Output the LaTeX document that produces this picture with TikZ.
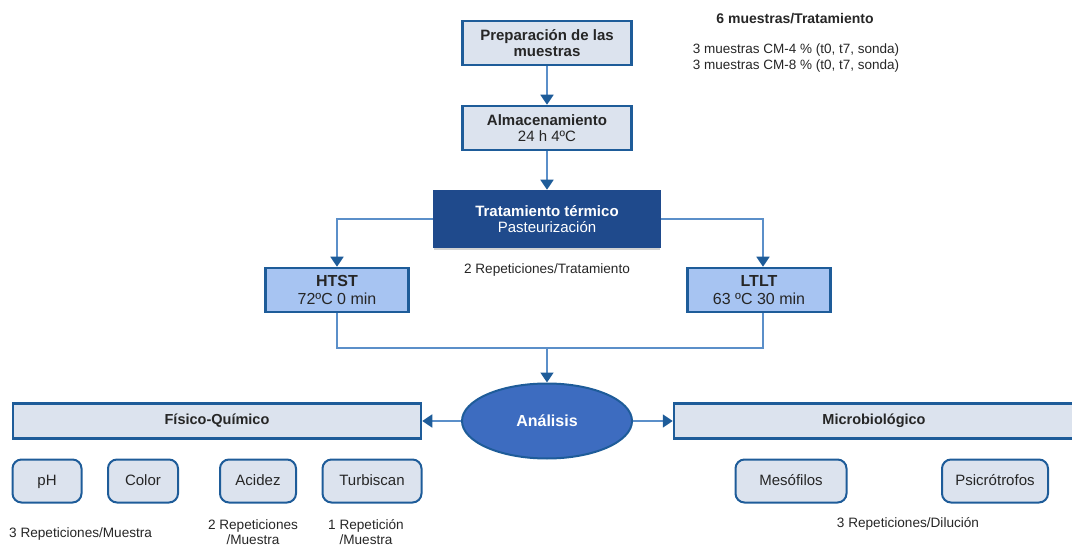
\documentclass[tikz,border=0pt]{standalone}
\usepackage{fontspec}
\setmainfont{Liberation Sans}
\usetikzlibrary{arrows.meta,shapes.geometric}
\definecolor{boxfill}{HTML}{DCE3EE}
\definecolor{boxline}{HTML}{1E5C99}
\definecolor{darkfill}{HTML}{1F4A8C}
\definecolor{medfill}{HTML}{A7C4F2}
\definecolor{ellfill}{HTML}{3D6CC0}
\definecolor{conline}{HTML}{5B8FC9}
\definecolor{txt}{HTML}{262626}
\tikzset{
  box/.style={draw=boxline, line width=2.5pt, fill=boxfill, text=txt, align=center,
    minimum width=169pt, minimum height=44pt, inner sep=0pt,
    font=\fontsize{15}{16}\selectfont\bfseries},
  temp/.style={box, fill=medfill, minimum width=143pt, font=\fontsize{16}{18}\selectfont},
  bar/.style={box, minimum height=35pt, font=\fontsize{14.5}{16}\selectfont\bfseries},
  small/.style={draw=boxline, line width=2pt, fill=boxfill, text=txt, rounded corners=9pt,
    minimum height=43pt, inner sep=0pt, text height=11pt, text depth=3pt,
    font=\fontsize{15}{16}\selectfont},
  note/.style={text=txt, align=center, inner sep=0pt, font=\fontsize{13.6}{15.5}\selectfont},
  con/.style={draw=conline, line width=1.8pt},
  arr/.style={con, -{Triangle[length=10pt,width=13pt,color=boxline]}}
}
\begin{document}
\begin{tikzpicture}[x=1pt, y=-1pt]
  \useasboundingbox (0,0) rectangle (1072,548);

  \node[box] (Prep) at (547,43) {Preparación de las\\muestras};
  \node[box] (Alm) at (547,128) {Almacenamiento\\\mdseries 24 h 4ºC};
  \fill[gray!35] (434,247) rectangle (660,250);
  \node[box, fill=darkfill, draw=darkfill, text=white, minimum width=226pt, minimum height=56pt] (Trat) at (547,219)
    {Tratamiento térmico\\\mdseries Pasteurización};
  \node[temp] (HTST) at (337,290) {\textbf{HTST}\\72ºC 0 min};
  \node[temp] (LTLT) at (759,290) {\textbf{LTLT}\\63 ºC 30 min};
  \node[note] (Rep) at (547,270) {2 Repeticiones/Tratamiento};

  \node[note, font=\fontsize{14}{16}\selectfont\bfseries] (Seis) at (795,19) {6 muestras/Tratamiento};
  \node[note, font=\fontsize{13.5}{16}\selectfont] (CM) at (796,58)
    {3 muestras CM-4 \% (t0, t7, sonda)\\3 muestras CM-8 \% (t0, t7, sonda)};

  \node[ellipse, draw=boxline, line width=2pt, fill=ellfill, text=white, minimum width=170pt, minimum height=75pt,
    inner sep=0pt, font=\fontsize{16}{18}\selectfont\bfseries] (Ana) at (547,421) {Análisis};
  \node[bar, minimum width=408pt] (FQ) at (217,421) {Físico-Químico};
  \node[bar, minimum width=400pt] (Micro) at (874,421) {Microbiológico};

  \node[small, minimum width=69pt] (pH) at (47,481) {pH};
  \node[small, minimum width=70pt] (Color) at (143,481) {Color};
  \node[small, minimum width=76pt] (Acidez) at (258,481) {Acidez};
  \node[small, minimum width=99pt] (Turb) at (372,481) {Turbiscan};
  \node[small, minimum width=111pt] (Meso) at (791,481) {Mesófilos};
  \node[small, minimum width=106pt] (Psic) at (995,481) {Psicrótrofos};

  \node[note, anchor=west] (R3) at (9,534) {3 Repeticiones/Muestra};
  \node[note] (R2) at (253,532) {2 Repeticiones\\/Muestra};
  \node[note] (R1) at (366,532) {1 Repetición\\/Muestra};
  \node[note] (RD) at (908,524) {3 Repeticiones/Dilución};

  \coordinate (J) at (547,348);
  \path[every edge/.append style={arr}]
    (Prep) edge (Alm)
    (Alm) edge (Trat)
    (J) edge (Ana)
    (Ana) edge (FQ) edge (Micro);
  \draw[arr] (Trat.west) -| (HTST.north);
  \draw[arr] (Trat.east) -| ([xshift=4pt]LTLT.north);
  \draw[con] (HTST.south) |- (J) -| ([xshift=4pt]LTLT.south);
\end{tikzpicture}
\end{document}
